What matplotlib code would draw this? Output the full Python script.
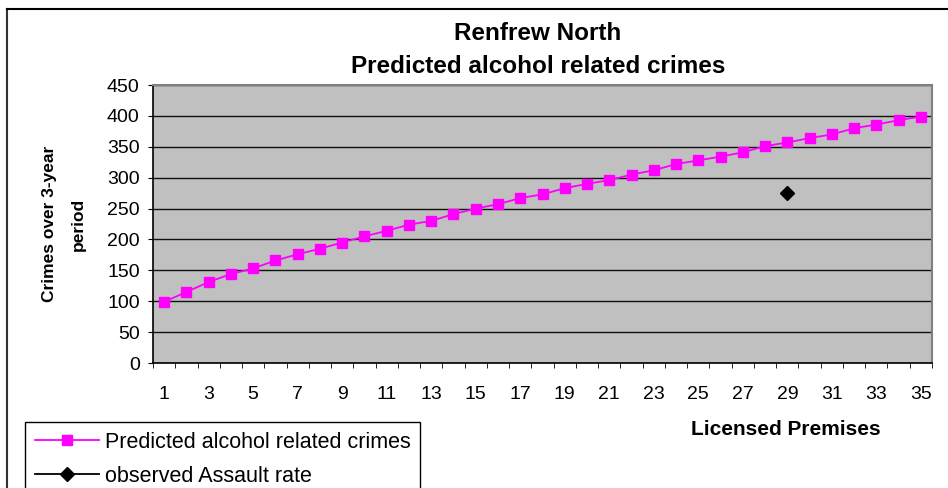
import matplotlib.pyplot as plt
from matplotlib.lines import Line2D
import numpy as np

plt.rcParams['font.family'] = ['Liberation Sans', 'DejaVu Sans']

# licensed premises (categories) and predicted crimes
premises = list(range(1, 36))
predicted = [99, 115, 131, 144, 153, 166, 176, 185, 195, 205,
             214, 224, 230, 241, 250, 257, 267, 273, 283, 290,
             296, 305, 312, 322, 328, 334, 341, 351, 357, 364,
             370, 380, 386, 393, 399]
observed_premises = [29]
observed_assaults = [275]

W, H = 948, 488
fig = plt.figure(figsize=(W / 100, H / 100), dpi=100)
# plot area in pixels: x 153..932, y 85..363
ax = fig.add_axes([153 / W, 1 - 363 / H, (932 - 153) / W, (363 - 85) / H])

pos = np.arange(len(premises))
ax.plot(pos, predicted, color='#ff00ff', lw=1.3, marker='s', ms=7.5,
        mec='#ff00ff', mfc='#ff00ff', label='Predicted alcohol related crimes')
obs_pos = [premises.index(p) for p in observed_premises]
ax.plot(obs_pos, observed_assaults, color='black', lw=1.3, marker='D', ms=7,
        linestyle='-', label='observed Assault rate')

ax.set_facecolor('#c0c0c0')
ax.set_xlim(-0.5, len(premises) - 0.5)
ax.set_ylim(0, 450)
ax.set_yticks(range(0, 451, 50))
ax.yaxis.grid(True, color='#111111', lw=1)
ax.set_axisbelow(True)

ax.set_xticks(pos[::2])
ax.set_xticklabels([str(p) for p in premises[::2]])
ax.set_xticks(np.arange(-0.5, len(premises), 1), minor=True)
ax.tick_params(axis='x', which='major', length=0, pad=16.5, labelsize=14)
ax.tick_params(axis='x', which='minor', length=3.6, direction='out', color='black')
ax.tick_params(axis='y', length=3.6, direction='out', labelsize=14, pad=6)

for side in ['top', 'right']:
    ax.spines[side].set_color('#808080')
    ax.spines[side].set_linewidth(1.5)
ax.spines['left'].set_linewidth(1.2)
ax.spines['bottom'].set_linewidth(1.2)

fig.text(538 / W, 1 - 40 / H, 'Renfrew North', ha='center', va='baseline',
         fontsize=17.5, fontweight='bold')
fig.text(538 / W, 1 - 73 / H, 'Predicted alcohol related crimes', ha='center',
         va='baseline', fontsize=17.5, fontweight='bold')
fig.text(64 / W, 1 - 224 / H, 'Crimes over 3-year\nperiod', ha='center', va='center',
         rotation=90, fontsize=12.5, fontweight='bold', linespacing=2.1)
fig.text(786 / W, 1 - 435 / H, 'Licensed Premises', ha='center', va='baseline',
         fontsize=15, fontweight='bold')

leg = fig.legend(loc='upper left', bbox_to_anchor=(25 / W, 1 - 422 / H), fontsize=15.5,
                 frameon=True, fancybox=False, edgecolor='black', framealpha=1,
                 handlelength=3.0, borderpad=0.45, labelspacing=0.6,
                 handletextpad=0.25, borderaxespad=0)
leg.get_frame().set_linewidth(1)

# chart area border (only top and left edges fall inside the image)
fig.add_artist(Line2D([7 / W, 7 / W], [0, 1 - 9 / H], transform=fig.transFigure,
                      color='#333333', lw=1.5))
fig.add_artist(Line2D([7 / W, 1], [1 - 9 / H, 1 - 9 / H], transform=fig.transFigure,
                      color='black', lw=1.5))

fig.savefig('out.png', dpi=100)
